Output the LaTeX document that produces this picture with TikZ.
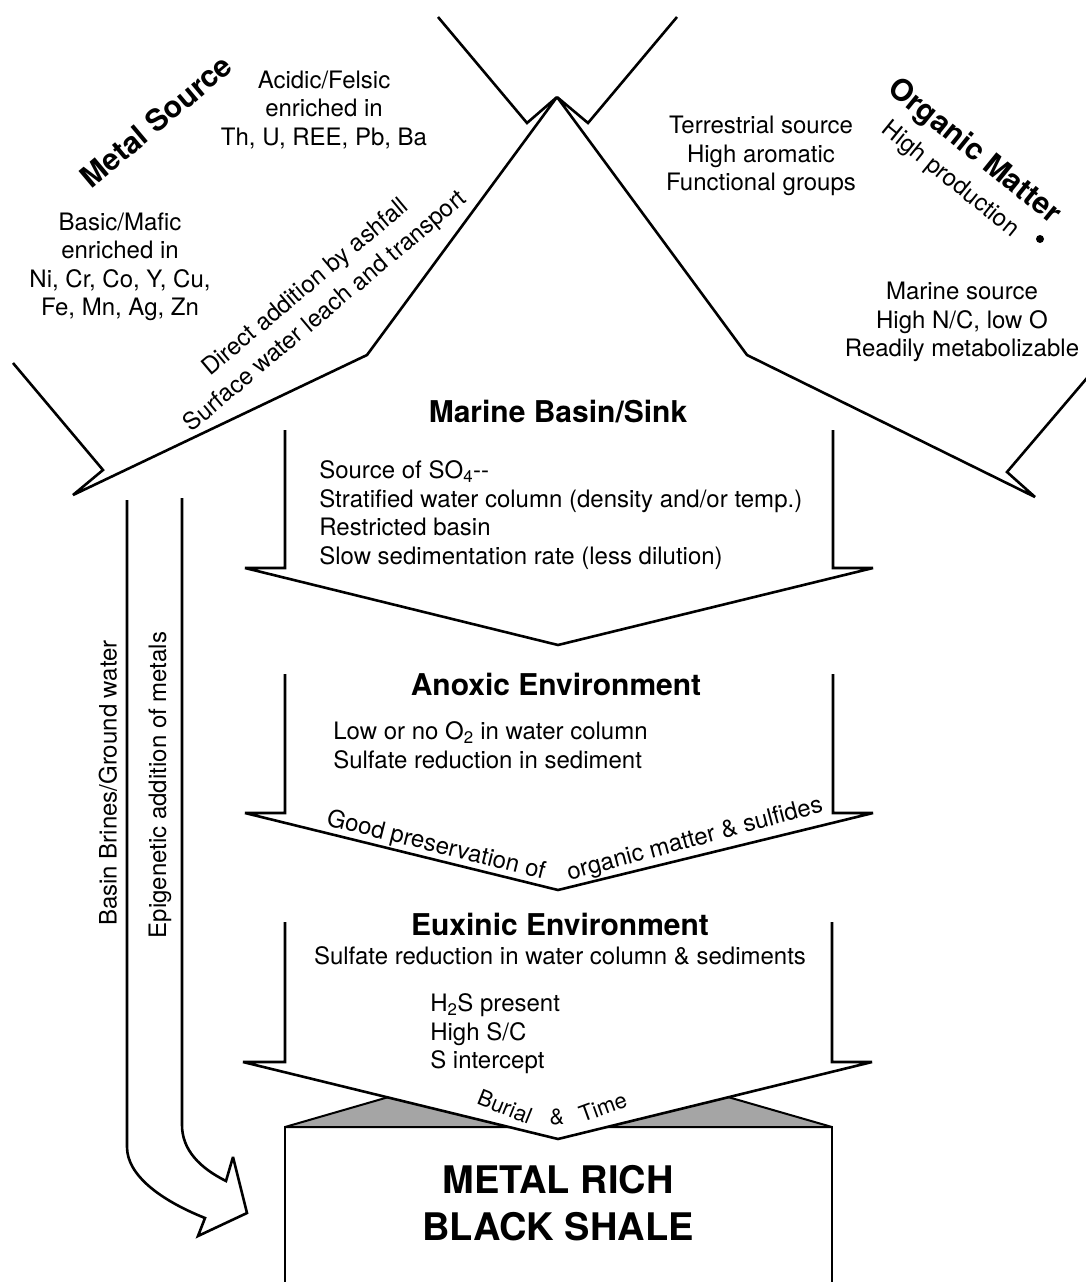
\documentclass[tikz,border=0pt]{standalone}
\usepackage{fontspec}
\setmainfont{TeX Gyre Heros}
\usepackage{tikz}
\usetikzlibrary{calc}
\definecolor{roofgray}{RGB}{165,165,165}

\begin{document}
\begin{tikzpicture}[x=1pt, y=-1pt, line width=2.6pt, miter limit=3,
  body/.style={inner sep=0pt, align=center, font=\fontsize{24}{28.5}\selectfont},
  bodyleft/.style={body, align=left, anchor=west},
  heading/.style={inner sep=0pt, font=\fontsize{30}{36}\selectfont\bfseries},
  bigtitle/.style={inner sep=0pt, align=center, font=\fontsize{38}{47}\selectfont\bfseries},
  alongline/.style={inner sep=0pt, font=\fontsize{22}{26}\selectfont}]
  \useasboundingbox (0,0) rectangle (1085,1282);

  % Source arrows
  \draw (438,17) -- (527,123) -- (557,97) -- (367,355) -- (73,495) -- (103,470) -- (13,363);
  \draw (677,17) -- (588,123) -- (557,97) -- (747,355) -- (1035,497) -- (1007,472) -- (1087,378);

  % Basin stages
  \draw (285,430) -- (285,568) -- (245,568) -- (558,645) -- (873,568) -- (833,568) -- (833,430);
  \draw (285,674) -- (285,813) -- (245,813) -- (558,890) -- (873,813) -- (833,813) -- (833,674);

  % Black shale with its roof
  \filldraw[fill=roofgray, line width=2pt] (285,1127) -- (558,1048) -- (832,1127) -- cycle;
  \draw (285,1290) -- (285,1127) -- (832,1127) -- (832,1290);
  \fill[white] (285,922) -- (285,1062) -- (243,1062) -- (558,1139) -- (872,1062) -- (832,1062) -- (832,922) -- cycle;
  \draw (285,922) -- (285,1062) -- (243,1062) -- (558,1139) -- (872,1062) -- (832,1062) -- (832,922);

  % Metal pathway from below
  \draw (127,500) -- (127,1147) .. controls (127,1175) and (160,1200) .. (205,1218) -- (198,1236) -- (247,1213)
    -- (233,1157) -- (226,1181) .. controls (200,1168) and (182,1150) .. (182,1125) -- (182,498);

  % Metal source
  \node[heading, rotate=40] (metal) at (156,121) {Metal Source};
  \node[body] (felsic) at (324,110) {Acidic/Felsic\\enriched in\\Th, U, REE, Pb, Ba};
  \node[body] (mafic) at (120,267) {Basic/Mafic\\enriched in\\Ni, Cr, Co, Y, Cu,\\Fe, Mn, Ag, Zn};
  \node[body, rotate=40, font=\fontsize{24}{31}\selectfont] (ashfall) at (316,300) {Direct addition by ashfall\\Surface water leach and transport};

  % Organic matter
  \node[heading, rotate=-39] (organic) at (974,152) {Organic Matter};
  \node[body, rotate=-39] (production) at (950,180) {High production};
  \node[circle, fill, inner sep=0pt, minimum size=8pt] (dot) at (1040,239) {};
  \node[body] (terrestrial) at (761,156) {Terrestrial source\\High aromatic\\Functional groups};
  \node[body] (marinesrc) at (962,322) {Marine source\\High N/C, low O\\Readily metabolizable};

  % Marine basin
  \node[heading] (basin) at (558,412) {Marine Basin/Sink};
  \node[bodyleft] (basinlist) at (318,515) {Source of SO\textsubscript{4}-{}-\\Stratified water column (density and/or temp.)\\Restricted basin\\Slow sedimentation rate (less dilution)};

  % Anoxic
  \node[heading] (anoxic) at (556,684) {Anoxic Environment};
  \node[bodyleft] (anoxiclist) at (332,745) {Low or no O\textsubscript{2} in water column\\Sulfate reduction in sediment};
  \node[body, rotate=-14] (preserve) at (436,846) {Good preservation of};
  \node[body, rotate=15] (sulfides) at (695,840) {organic matter \& sulfides};

  % Euxinic
  \node[heading] (euxinic) at (560,924) {Euxinic Environment};
  \node[body] (euxsub) at (560,956) {Sulfate reduction in water column \& sediments};
  \node[bodyleft] (h2s) at (429,1034) {H\textsubscript{2}S present\\High S/C\\S intercept};
  \node[alongline, rotate=-22] (burial) at (505,1107) {Burial};
  \node[alongline] (amp) at (557,1117) {\&};
  \node[alongline, rotate=20] (time) at (603,1107) {Time};

  % Result
  \node[bigtitle] (shale) at (558,1203) {METAL RICH\\BLACK SHALE};
  \node[body, rotate=90] (brines) at (108,783) {Basin Brines/Ground water};
  \node[body, rotate=90] (epigenetic) at (160,785) {Epigenetic addition of metals};
\end{tikzpicture}
\end{document}
